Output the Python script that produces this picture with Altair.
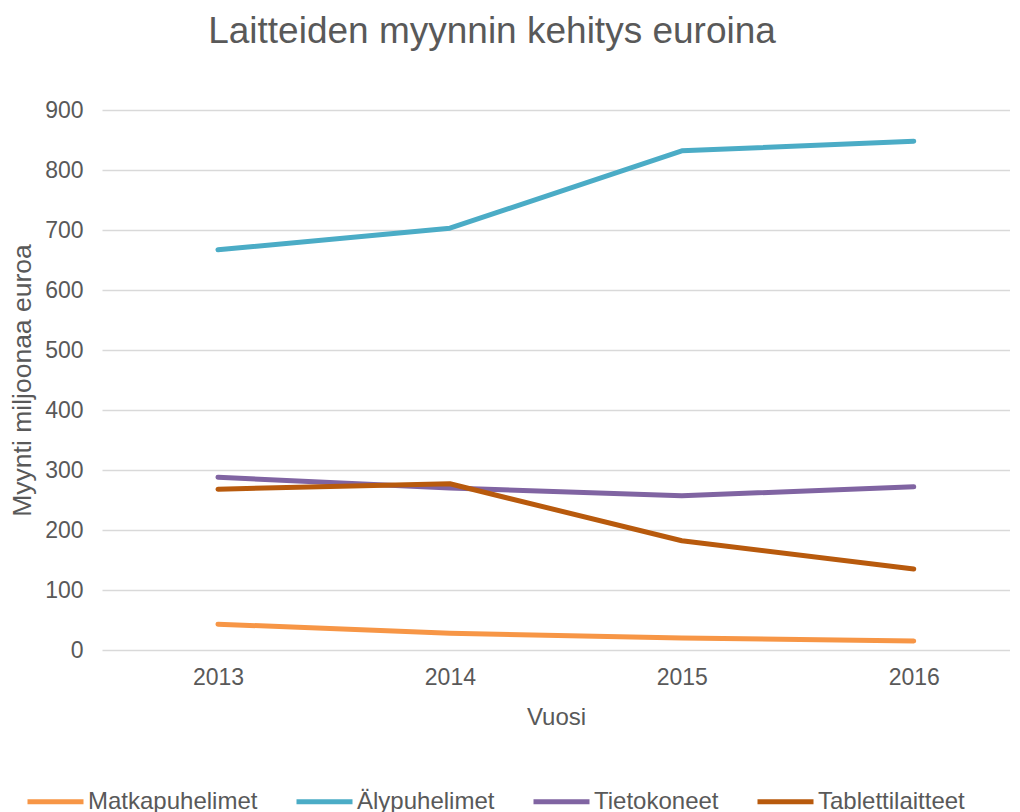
import altair as alt
import pandas as pd

years = [2013, 2014, 2015, 2016]
series = ["Matkapuhelimet", "Älypuhelimet", "Tietokoneet", "Tablettilaitteet"]
matkapuhelimet = [43, 28, 20, 15]
alypuhelimet = [667, 703, 832, 848]
tietokoneet = [288, 270, 257, 272]
tablettilaitteet = [268, 277, 182, 135]
colors = ["#F79646", "#4BACC6", "#8064A2", "#B85A0D"]

values = [matkapuhelimet, alypuhelimet, tietokoneet, tablettilaitteet]
rows = []
for name, vals in zip(series, values):
    for y, v in zip(years, vals):
        rows.append({"Vuosi": y, "Sarja": name, "Arvo": v})
df = pd.DataFrame(rows)

FONT = "Liberation Sans"
TXT = "#595959"

chart = alt.Chart(df).mark_line(strokeWidth=5, strokeCap="round", strokeJoin="round").encode(
    x=alt.X("Vuosi:Q",
            scale=alt.Scale(domain=[2012.5, 2016.415], nice=False, zero=False),
            axis=alt.Axis(values=years, format="d", grid=False, domain=False, ticks=False,
                          labelPadding=16, labelFontSize=23, labelColor=TXT, labelFont=FONT,
                          title="Vuosi", titleFontSize=24, titleColor=TXT, titleFont=FONT,
                          titleFontWeight="normal", titleY=67, titleBaseline="middle")),
    y=alt.Y("Arvo:Q",
            scale=alt.Scale(domain=[0, 900], nice=False),
            axis=alt.Axis(values=list(range(0, 1000, 100)), grid=True, gridColor="#D9D9D9",
                          gridWidth=1.5, domain=False, ticks=False,
                          labelPadding=19, labelFontSize=23, labelColor=TXT, labelFont=FONT,
                          title="Myynti miljoonaa euroa", titleFontSize=26.5, titleColor=TXT,
                          titleFont=FONT, titleFontWeight="normal", titleX=-80, titleY=270,
                          titleAngle=-90, titleAlign="center", titleBaseline="middle")),
    color=alt.Color("Sarja:N", scale=alt.Scale(domain=series, range=colors),
                    sort=series,
                    legend=alt.Legend(title=None, orient="none", direction="horizontal",
                                      legendX=-77, legendY=661, symbolType="stroke",
                                      symbolSize=3136, symbolStrokeWidth=5,
                                      labelFontSize=24, labelColor=TXT, labelFont=FONT,
                                      labelLimit=400, labelOffset=2, columnPadding=28,
                                      symbolOffset=0)),
).properties(
    width=908, height=540,
    autosize=alt.AutoSizeParams(type="none"),
    padding={"left": 94, "top": 102, "right": 0, "bottom": 172},
    title=alt.TitleParams("Laitteiden myynnin kehitys euroina", fontSize=37, color=TXT,
                          font=FONT, fontWeight="normal", anchor="middle", dx=-64, offset=48),
).configure_view(stroke=None)

chart.save("out.html", embed_options={"renderer": "svg", "actions": False})
